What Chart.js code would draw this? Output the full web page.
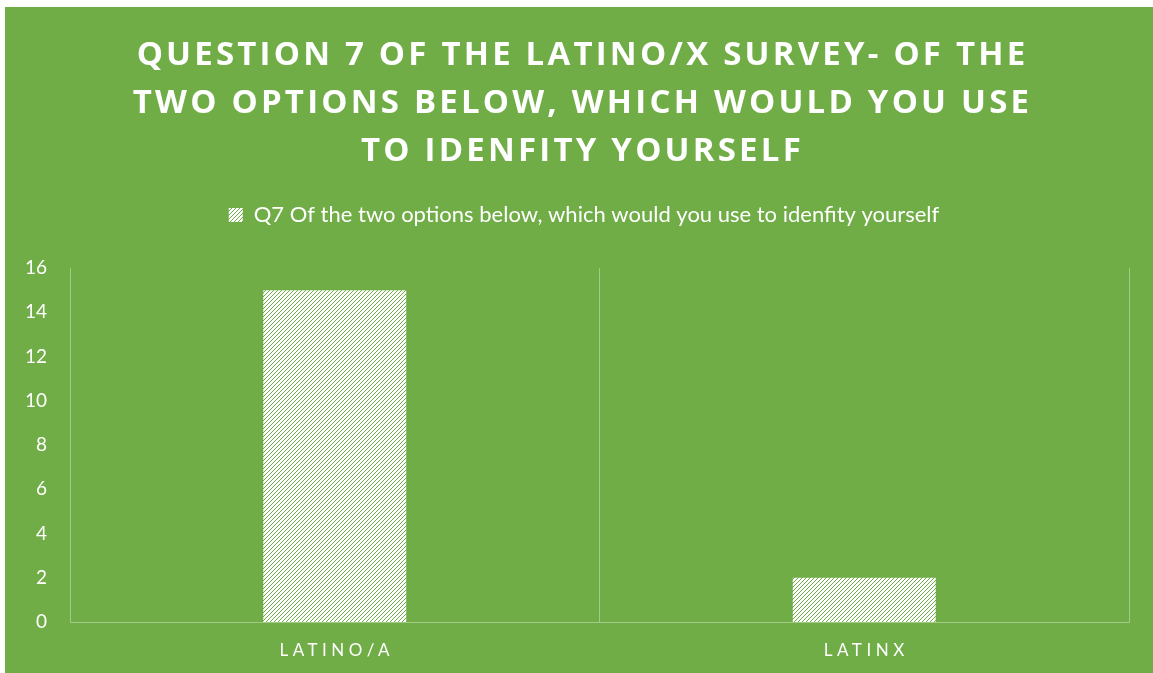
<!DOCTYPE html>
<html>
<head>
<meta charset="utf-8">
<script src="https://cdn.jsdelivr.net/npm/chart.js@4"></script>
<style>
  html, body { margin: 0; padding: 0; background: #ffffff; }
  #frame { position: absolute; left: 5px; top: 7px; width: 1148px; height: 666px; background: #70AD47; }
  canvas { display: block; }
</style>
</head>
<body>
<div id="frame"><canvas id="c" width="1148" height="666"></canvas></div>
<script>
// Survey question 7: which term respondents use for themselves
const titleLines = [
  'QUESTION 7 OF THE LATINO/X SURVEY- OF THE',
  'TWO OPTIONS BELOW, WHICH WOULD YOU USE',
  'TO IDENFITY YOURSELF'
];
const seriesName = 'Q7 Of the two options below, which would you use to idenfity yourself';
const categories = ['LATINO/A', 'LATINX'];
const responses = [15, 2];
const yTicks = [0, 2, 4, 6, 8, 10, 12, 14, 16];

const GREEN = '#70AD47';
const LINE = 'rgba(255,255,255,0.35)';

const canvas = document.getElementById('c');
const ctx = canvas.getContext('2d');

// White fill with thin green upward diagonals
function hatchPattern() {
  const tile = document.createElement('canvas');
  tile.width = 4; tile.height = 4;
  const g = tile.getContext('2d');
  g.fillStyle = '#ffffff';
  g.fillRect(0, 0, 4, 4);
  g.fillStyle = GREEN;
  for (let i = 0; i < 4; i++) g.fillRect(3 - i, i, 1, 1);
  return ctx.createPattern(tile, 'repeat');
}
const hatch = hatchPattern();

// Extra room under the legend, and legend nudged toward the centre of the frame
const legendSpacing = {
  id: 'legendSpacing',
  beforeLayout(chart) {
    const lg = chart.legend;
    if (lg && !lg._extraGap) {
      const baseFit = lg.fit;
      lg.fit = function () { baseFit.call(this); this.height += 32; };
      lg._extraGap = true;
    }
  },
  afterLayout(chart) {
    const lg = chart.legend;
    if (lg) { lg.left += 17; lg.right += 17; }
  }
};

// Letter-spaced title and category labels
const spacedText = {
  id: 'spacedText',
  afterDraw(chart) {
    const c = chart.ctx;
    c.save();
    c.fillStyle = '#ffffff';
    c.textAlign = 'center';
    c.textBaseline = 'alphabetic';
    c.font = 'bold 33px "Open Sans"';
    c.letterSpacing = '3.2px';
    titleLines.forEach((s, i) => c.fillText(s, 577.5, 57.5 + i * 48));
    const xs = chart.scales.x;
    c.font = '17px Lato';
    c.letterSpacing = '4.5px';
    categories.forEach((s, i) => c.fillText(s, xs.getPixelForValue(i) + 2, 649));
    c.restore();
  }
};

new Chart(ctx, {
  type: 'bar',
  data: {
    labels: categories,
    datasets: [{
      label: seriesName,
      data: responses,
      backgroundColor: hatch,
      borderWidth: 0,
      barPercentage: 0.27,
      categoryPercentage: 1
    }]
  },
  options: {
    responsive: false,
    animation: false,
    devicePixelRatio: 1,
    layout: { padding: { top: 163, right: 24, left: 0, bottom: 0 } },
    plugins: {
      legend: {
        position: 'top',
        labels: {
          color: '#ffffff',
          font: { family: 'Lato', size: 22 },
          boxWidth: 14,
          boxHeight: 14,
          padding: 34
        }
      },
      tooltip: { enabled: false }
    },
    scales: {
      x: {
        grid: { display: true, color: LINE, offset: true, drawTicks: false },
        border: { display: true, color: LINE },
        ticks: { display: false },
        afterFit(scale) { scale.height = 51; }
      },
      y: {
        min: 0,
        max: 16,
        afterBuildTicks(scale) { scale.ticks = yTicks.map(v => ({ value: v })); },
        ticks: { color: '#ffffff', font: { family: 'Lato', size: 19 }, padding: 23 },
        grid: { display: false, drawTicks: false },
        border: { display: false },
        afterFit(scale) { scale.width = 65; }
      }
    }
  },
  plugins: [legendSpacing, spacedText]
});
</script>
</body>
</html>
